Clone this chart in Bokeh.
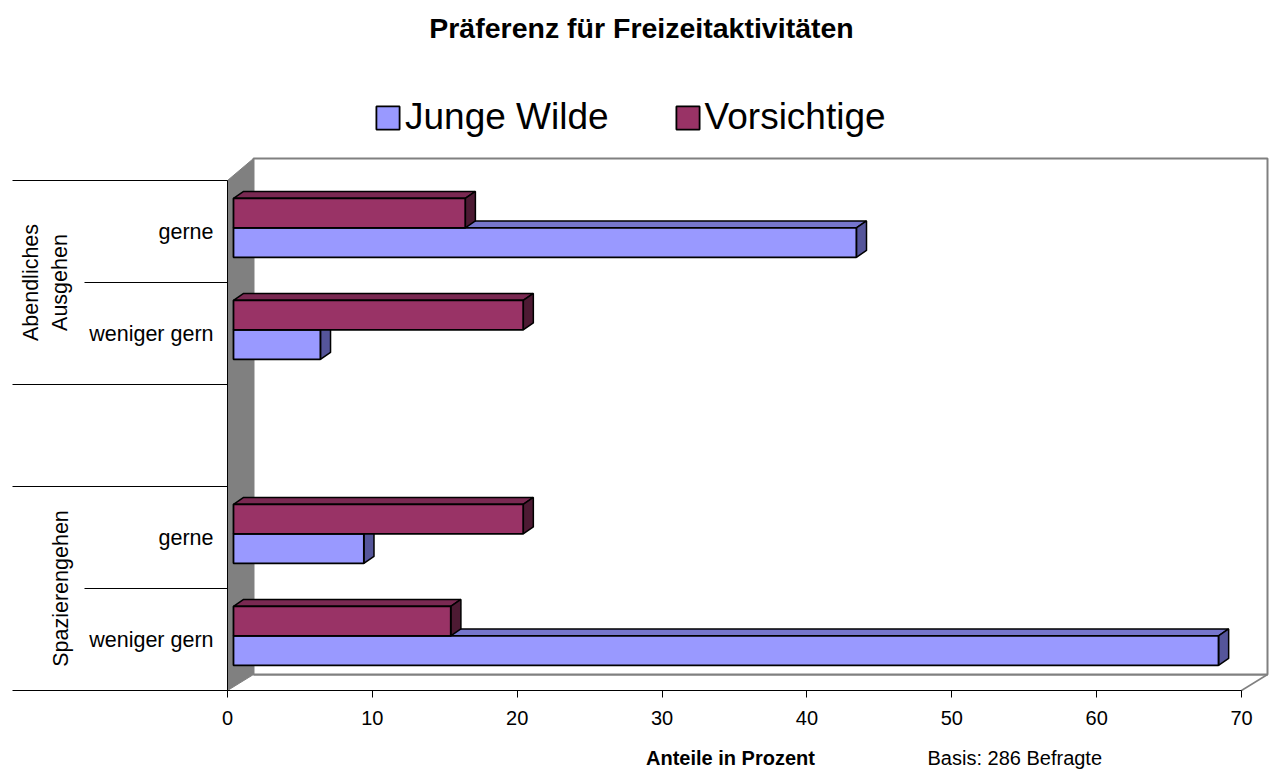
import numpy as np
from bokeh.plotting import figure
from bokeh.models import (Legend, LegendItem, Label, FixedTicker, Range1d)
from bokeh.core.properties import value
from bokeh.embed import file_html
from bokeh.resources import INLINE

# ---------------- data ----------------
title_text = "Präferenz für Freizeitaktivitäten"
groups = ["Abendliches\nAusgehen", "Spazierengehen"]
group_members = [["gerne", "weniger gern"], ["gerne", "weniger gern"]]
series = ["Junge Wilde", "Vorsichtige"]
junge_wilde = [43, 6, 9, 68]      # order: Abend gerne, Abend weniger, Spaz gerne, Spaz weniger
vorsichtige = [16, 20, 20, 15]
x_ticks = [0, 10, 20, 30, 40, 50, 60, 70]
x_label = "Anteile in Prozent"
note = "Basis: 286 Befragte"

# ---------------- layout / style ----------------
W, H = 1269, 773
FLOOR_Y = 690                  # canvas px of floor front line (value axis)
X0 = 227                       # canvas px of value 0
XMAX = 70
PX_X = (1241 - X0) / XMAX      # px per percent
SLOT = 102                     # px per category slot
DX = 26                        # 3D depth of walls in px (horizontal)
DY_BOT, DY_TOP = 16, 22        # 3D depth (vertical) at floor / at top
F0, F1 = 0.23, 0.62            # bar depth fraction (front, back)
BAR_H = 29.5                   # px bar height

JW_FRONT, JW_TOP, JW_SIDE = "#9999FF", "#7676CC", "#55559A"
V_FRONT, V_TOP, V_SIDE = "#993366", "#7A2952", "#4D1A33"
WALL = "#808080"
FONT = "Liberation Sans"


def px_x(px):
    return (px - X0) / PX_X


def px_y(py):
    return (FLOOR_Y - py) / SLOT


p = figure(width=W, height=H, output_backend="svg", toolbar_location=None,
           x_range=Range1d(px_x(0), px_x(W)), y_range=Range1d(px_y(H), px_y(0)),
           y_axis_location=None, min_border_left=0, min_border_right=0,
           min_border_top=0, min_border_bottom=0,
           background_fill_color="white", border_fill_color="white")
p.outline_line_color = None
p.grid.visible = False

dxw = DX / PX_X
dyb, dyt = DY_BOT / SLOT, DY_TOP / SLOT

# category slot layout (top to bottom, blank slot between groups)
slot_pos = []
group_spans = []
n_slots = sum(len(m) for m in group_members) + len(groups) - 1
cur = n_slots
for gi, mem in enumerate(group_members):
    top = cur
    for _ in mem:
        slot_pos.append(cur - 0.5)
        cur -= 1
    group_spans.append((cur, top))
    cur -= 1  # gap
sub_labels = [c for m in group_members for c in m]
n_top = n_slots

# ---------------- walls ----------------
p.patch([0, XMAX, XMAX + dxw, dxw], [0, 0, dyb, dyb], fill_color="white",
        line_color=None)
p.line([dxw, XMAX + dxw], [dyb, dyb], line_color=WALL, line_width=2)
p.line([XMAX, XMAX + dxw], [0, dyb], line_color=WALL, line_width=1.5)
p.patch([dxw, XMAX + dxw, XMAX + dxw, dxw], [dyb, dyb, n_top + dyt, n_top + dyt],
        fill_color="white", line_color=WALL, line_width=2)
p.patch([0, dxw, dxw, 0], [0, dyb, n_top + dyt, n_top], fill_color=WALL,
        line_color=WALL, line_width=1)
p.line([0, 0], [0, n_top], line_color="black", line_width=1)

# category separator lines
long_x0 = px_x(12)
short_x0 = px_x(84)
seg_x0, seg_y = [], []
for (lo, hi) in group_spans:
    seg_x0 += [long_x0, long_x0]
    seg_y += [hi, lo]
    for k in range(1, int(hi - lo)):
        seg_x0.append(short_x0)
        seg_y.append(hi - k)
p.segment(x0=seg_x0, y0=seg_y, x1=[0] * len(seg_y), y1=seg_y,
          line_color="black", line_width=1)

# ---------------- bars ----------------
bx0 = F0 * dxw
boff = F0 * dyb
bdx = (F1 - F0) * dxw
bdy = (F1 - F0) * dyb * 1.1
bh = BAR_H / SLOT


def bar_parts(vals, lower):
    L, R, B, T = [], [], [], []
    for c, v in zip(slot_pos, vals):
        base = c + boff
        b, t = (base - bh, base) if lower else (base, base + bh)
        L.append(bx0); R.append(bx0 + v); B.append(b); T.append(t)
    tops_x = [[l, r, r + bdx, l + bdx] for l, r in zip(L, R)]
    tops_y = [[t, t, t + bdy, t + bdy] for t in T]
    side_x = [[r, r + bdx, r + bdx, r] for r in R]
    side_y = [[b, b + bdy, t + bdy, t] for b, t in zip(B, T)]
    return L, R, B, T, tops_x, tops_y, side_x, side_y


renderers = []
for vals, lower, cf, ct, cs in [(junge_wilde, True, JW_FRONT, JW_TOP, JW_SIDE),
                                (vorsichtige, False, V_FRONT, V_TOP, V_SIDE)]:
    L, R, B, T, tx, ty, sx, sy = bar_parts(vals, lower)
    p.patches(tx, ty, fill_color=ct, line_color="black", line_width=1.5)
    p.patches(sx, sy, fill_color=cs, line_color="black", line_width=1.5)
    r = p.quad(left=L, right=R, bottom=B, top=T, fill_color=cf,
               line_color="black", line_width=1.8)
    renderers.append(r)

# ---------------- category labels ----------------
p.text(x=[px_x(213)] * len(sub_labels), y=slot_pos, text=sub_labels,
       text_align="right", text_baseline="middle", text_font=value(FONT),
       text_font_size="21.5px", text_color="black")
gx = [px_x(45), px_x(60)]
gy = [(lo + hi) / 2 for lo, hi in group_spans]
p.text(x=gx, y=gy, text=groups, angle=np.pi / 2, text_align="center",
       text_baseline="middle", text_font=value(FONT), text_font_size="21.5px",
       text_color="black", text_line_height=1.2)

# ---------------- title & texts ----------------
p.add_layout(Label(x=px_x(641), y=px_y(27), text=title_text,
                   text_align="center", text_baseline="middle",
                   text_font=FONT, text_font_size="28.5px",
                   text_font_style="bold", text_color="black"))
p.add_layout(Label(x=px_x(730), y=px_y(757), text=x_label,
                   text_align="center", text_baseline="middle",
                   text_font=FONT, text_font_size="20px",
                   text_font_style="bold", text_color="black"))
p.add_layout(Label(x=px_x(927), y=px_y(757), text=note,
                   text_align="left", text_baseline="middle",
                   text_font=FONT, text_font_size="20px", text_color="black"))

# ---------------- legend ----------------
legend = Legend(items=[LegendItem(label=series[0], renderers=[renderers[0]]),
                       LegendItem(label=series[1], renderers=[renderers[1]])],
                orientation="horizontal", location=(373, H - 138),
                glyph_width=29, glyph_height=29, label_standoff=3, spacing=64,
                padding=0, margin=0, border_line_color=None,
                background_fill_alpha=0, label_text_font=FONT,
                label_text_font_size="37px", label_text_color="black")
p.add_layout(legend)

# ---------------- x axis (fixed at the floor front line) ----------------
ax = p.xaxis[0]
ax.fixed_location = 0
ax.ticker = FixedTicker(ticks=x_ticks)
ax.bounds = (0, XMAX)
ax.axis_line_color = "black"
ax.axis_line_width = 1
ax.major_tick_line_color = "black"
ax.major_tick_out = 7
ax.major_tick_in = 0
ax.minor_tick_line_color = None
ax.major_label_text_font = FONT
ax.major_label_text_font_size = "20px"
ax.major_label_text_color = "black"
ax.major_label_standoff = 13

open("out.html", "w").write(file_html(p, INLINE))
